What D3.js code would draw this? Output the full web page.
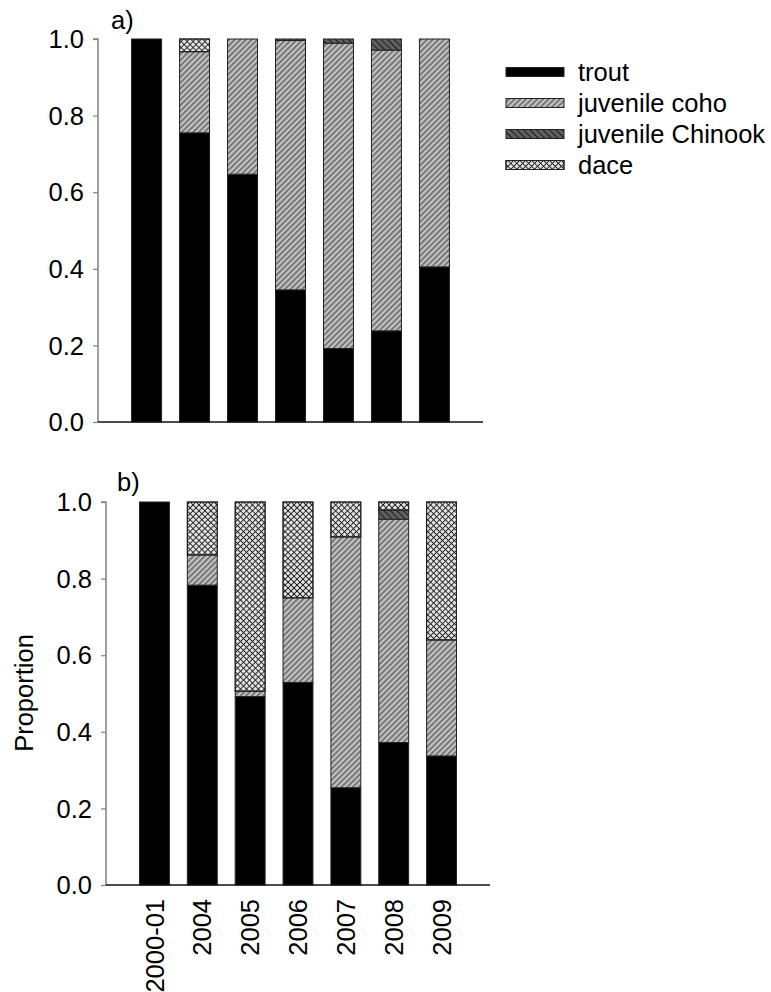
<!DOCTYPE html>
<html>
<head>
<meta charset="utf-8">
<script src="https://cdn.jsdelivr.net/npm/d3@7"></script>
<style>
  html, body { margin: 0; padding: 0; background: #fff; }
  svg { display: block; font-family: "Liberation Sans", Arial, sans-serif; }
</style>
</head>
<body>
<svg id="chart" width="771" height="992"></svg>
<script>
// Categories and series
const years = ["2000-01", "2004", "2005", "2006", "2007", "2008", "2009"];
const species = ["trout", "juvenile coho", "juvenile Chinook", "dace"];
const yTicks = [0, 0.2, 0.4, 0.6, 0.8, 1.0];

// Panel a) proportions by year
const troutA   = [1.000, 0.755, 0.647, 0.345, 0.192, 0.238, 0.405];
const cohoA    = [0.000, 0.212, 0.353, 0.651, 0.797, 0.733, 0.595];
const chinookA = [0.000, 0.000, 0.000, 0.004, 0.011, 0.029, 0.000];
const daceA    = [0.000, 0.033, 0.000, 0.000, 0.000, 0.000, 0.000];

// Panel b) proportions by year
const troutB   = [1.000, 0.783, 0.492, 0.529, 0.254, 0.372, 0.337];
const cohoB    = [0.000, 0.079, 0.014, 0.221, 0.655, 0.583, 0.303];
const chinookB = [0.000, 0.000, 0.000, 0.000, 0.000, 0.024, 0.000];
const daceB    = [0.000, 0.138, 0.494, 0.250, 0.091, 0.021, 0.360];

const svg = d3.select("#chart");
const FONT = 25.5;

// Hatch patterns
const defs = svg.append("defs");
function hatch(id, fill, angles, size, sw) {
  angles.forEach((a, i) => {
    const p = defs.append("pattern")
      .attr("id", id + (angles.length > 1 ? "_" + i : ""))
      .attr("patternUnits", "userSpaceOnUse")
      .attr("width", size).attr("height", size)
      .attr("patternTransform", `rotate(${a})`);
    if (i === 0) p.append("rect").attr("width", size).attr("height", size).attr("fill", fill);
    p.append("line").attr("x1", size / 2).attr("x2", size / 2)
      .attr("y1", 0).attr("y2", size)
      .attr("stroke", "#1a1a1a").attr("stroke-width", sw);
  });
}
hatch("coho", "#c4c4c4", [45], 4, 0.9);
hatch("chinook", "#606060", [-45], 4.6, 1.0);
hatch("dace", "#e4e4e4", [45, -45], 4.2, 0.9);

// Dace uses two overlaid layers (both diagonals)
function paint(sel, key) {
  if (key === "trout") {
    sel.attr("fill", "#000");
  } else if (key === "juvenile coho") {
    sel.attr("fill", "url(#coho)");
  } else if (key === "juvenile Chinook") {
    sel.attr("fill", "url(#chinook)");
  } else {
    sel.attr("fill", "url(#dace_0)");
  }
}

function drawPanel(cfg) {
  const rows = years.map((y, i) => ({
    year: y,
    "trout": cfg.trout[i],
    "juvenile coho": cfg.coho[i],
    "juvenile Chinook": cfg.chinook[i],
    "dace": cfg.dace[i]
  }));
  const series = d3.stack().keys(species)(rows);

  const x = d3.scaleBand().domain(years)
    .range([cfg.x0, cfg.x1]).paddingInner(0.375).paddingOuter(0.7);
  const y = d3.scaleLinear().domain([0, 1]).range([cfg.yBottom, cfg.yTop]);

  const g = svg.append("g");

  series.forEach(s => {
    const segs = s.filter(d => d[1] - d[0] > 0);
    const bars = g.selectAll(null).data(segs).enter().append("rect")
      .attr("x", d => x(d.data.year))
      .attr("width", x.bandwidth())
      .attr("y", d => y(d[1]))
      .attr("height", d => y(d[0]) - y(d[1]))
      .attr("stroke", "#222").attr("stroke-width", 1);
    paint(bars, s.key);
    if (s.key === "dace") {
      g.selectAll(null).data(segs).enter().append("rect")
        .attr("x", d => x(d.data.year))
        .attr("width", x.bandwidth())
        .attr("y", d => y(d[1]))
        .attr("height", d => y(d[0]) - y(d[1]))
        .attr("fill", "url(#dace_1)")
        .attr("stroke", "#222").attr("stroke-width", 1);
    }
  });

  // Y axis
  const yAxis = g.append("g").attr("transform", `translate(${cfg.x0},0)`)
    .call(d3.axisLeft(y).tickValues(yTicks).tickSize(5).tickFormat(""));
  yAxis.select(".domain").attr("stroke", "#808080").attr("stroke-width", 1.5)
    .attr("d", `M-5,${y(1)}H0V${y(0)}`);
  yAxis.selectAll(".tick line").attr("stroke", "#808080").attr("stroke-width", 1.2);

  g.selectAll(null).data(yTicks).enter().append("text")
    .attr("x", cfg.x0 - 14).attr("y", d => y(d))
    .attr("dy", "0.36em")
    .attr("text-anchor", "end")
    .attr("font-size", FONT)
    .text(d3.format(".1f"));

  // X baseline
  g.append("line")
    .attr("x1", cfg.x0).attr("x2", cfg.x1)
    .attr("y1", y(0)).attr("y2", y(0))
    .attr("stroke", "#111").attr("stroke-width", 1.5);

  // Panel letter
  g.append("text").attr("x", cfg.letterX).attr("y", cfg.letterY)
    .attr("font-size", FONT).text(cfg.letter);

  return x;
}

drawPanel({
  trout: troutA, coho: cohoA, chinook: chinookA, dace: daceA,
  x0: 98, x1: 483, yTop: 39, yBottom: 422,
  letter: "a)", letterX: 111, letterY: 29
});

const xB = drawPanel({
  trout: troutB, coho: cohoB, chinook: chinookB, dace: daceB,
  x0: 106, x1: 490, yTop: 502, yBottom: 885,
  letter: "b)", letterX: 117, letterY: 491
});

// Rotated year labels under panel b)
svg.append("g").selectAll("text").data(years).enter().append("text")
  .attr("transform", d => `translate(${xB(d) + xB.bandwidth() / 2},899) rotate(-90)`)
  .attr("text-anchor", "end")
  .attr("dy", "0.36em")
  .attr("font-size", FONT)
  .text(d => d);

// Y axis title
svg.append("text")
  .attr("transform", "translate(24,693) rotate(-90)")
  .attr("text-anchor", "middle")
  .attr("dy", "0.36em")
  .attr("font-size", FONT)
  .text("Proportion");

// Legend
const legend = svg.append("g");
const legendY = [72, 103, 134, 165];
species.forEach((k, i) => {
  const r = legend.append("rect")
    .attr("x", 506).attr("y", legendY[i] - 4.5)
    .attr("width", 58).attr("height", 9)
    .attr("stroke", "#222").attr("stroke-width", 1);
  paint(r, k);
  if (k === "dace") {
    legend.append("rect")
      .attr("x", 506).attr("y", legendY[i] - 4.5)
      .attr("width", 58).attr("height", 9)
      .attr("fill", "url(#dace_1)")
      .attr("stroke", "#222").attr("stroke-width", 1);
  }
  legend.append("text")
    .attr("x", 578).attr("y", legendY[i])
    .attr("dy", "0.36em")
    .attr("font-size", FONT)
    .text(k);
});
</script>
</body>
</html>
